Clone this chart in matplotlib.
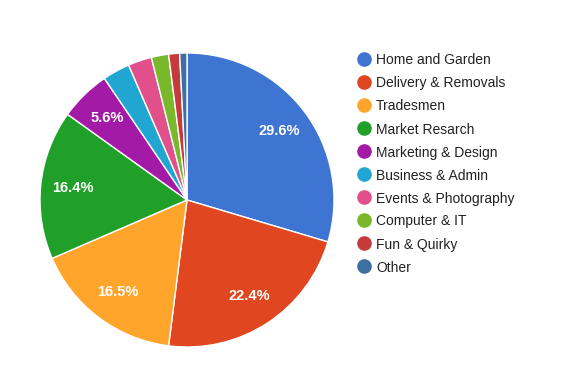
import matplotlib.pyplot as plt

categories = ["Home and Garden", "Delivery & Removals", "Tradesmen", "Market Resarch",
              "Marketing & Design", "Business & Admin", "Events & Photography",
              "Computer & IT", "Fun & Quirky", "Other"]
shares = [29.6, 22.4, 16.5, 16.4, 5.6, 3.0, 2.6, 1.9, 1.2, 0.8]
colors = ["#3e74d2", "#e0461f", "#ffa52c", "#21a029", "#a21aa5",
          "#21a6d1", "#e1508a", "#78b82a", "#c53a3a", "#3d6fa2"]

plt.rcParams['font.family'] = ['Liberation Sans', 'DejaVu Sans']

fig = plt.figure(figsize=(5.73, 3.66), dpi=100)
fig.patch.set_facecolor("white")

# pie placed by pixel box (center ~187,200, radius ~147)
ax = fig.add_axes([40/573, 19/366, 294/573, 294/366])

def fmt(p):
    return f"{p:.1f}%" if p >= 5 else ""

wedges, texts, autotexts = ax.pie(
    shares, colors=colors, startangle=90, counterclock=False, radius=1,
    autopct=fmt, pctdistance=0.78,
    wedgeprops=dict(edgecolor="white", linewidth=1),
    textprops=dict(color="white", fontsize=10.5, fontweight="bold"))
ax.set_xlim(-1, 1)
ax.set_ylim(-1, 1)
ax.set_aspect("equal")
ax.axis("off")

# legend drawn in pixel coords
lax = fig.add_axes([0, 0, 1, 1])
lax.set_xlim(0, 573)
lax.set_ylim(366, 0)
lax.axis("off")
for i, (name, c) in enumerate(zip(categories, colors)):
    y = 59 + i * 23
    lax.plot(364, y, "o", color=c, markersize=9.5)
    lax.text(376, y, name, va="center_baseline", ha="left", fontsize=10, color="#222222")

fig.savefig("out.png", dpi=100)
